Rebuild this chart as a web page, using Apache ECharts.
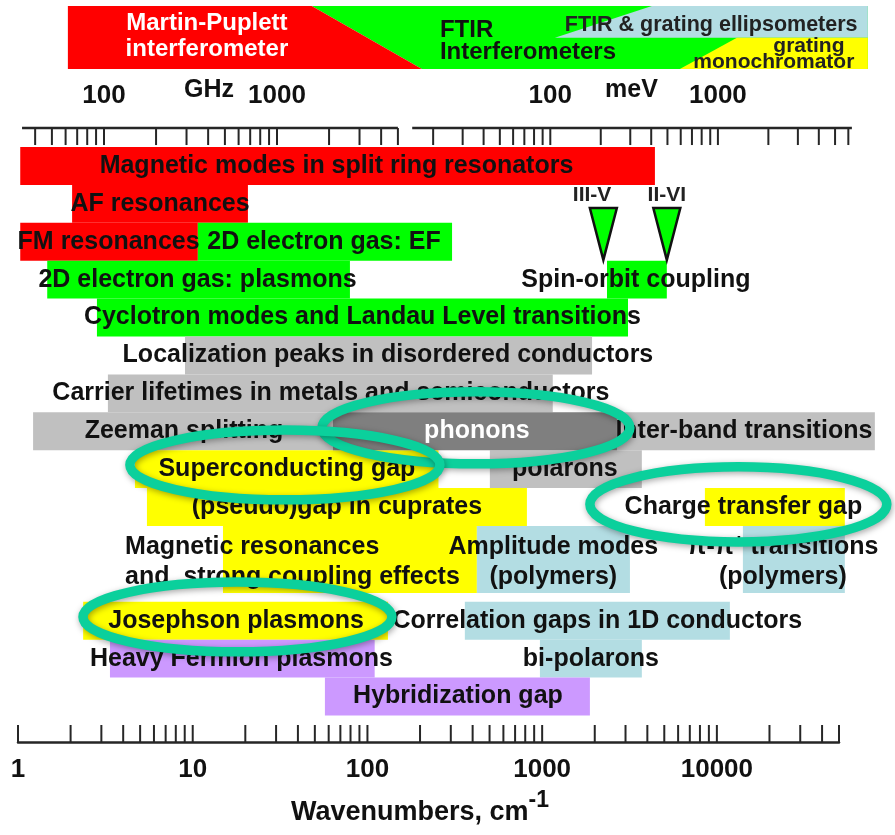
<!DOCTYPE html>
<html>
<head>
<meta charset="utf-8">
<title>Spectroscopic energy scales in correlated electron systems</title>
<script src="https://cdn.jsdelivr.net/npm/echarts@6.0.0/dist/echarts.min.js"></script>
<style>
  html, body { margin: 0; padding: 0; background: #ffffff; }
  #chart { width: 895px; height: 835px; }
</style>
</head>
<body>
<div id="chart"></div>
<script>
// ---------------------------------------------------------------------------
// Data. All energies are wavenumbers (cm^-1) unless stated otherwise.
// Band rows: [label, from, to, lane, label centre]
// ---------------------------------------------------------------------------
const redBands = [
  ['Magnetic modes in split ring resonators', 1.03, 4420, 0, 66.5],
  ['AF resonances', 2.04, 20.7, 1, 6.5],
  ['FM resonances', 1.03, 10.7, 2, 3.3]
];
const greenBands = [
  ['2D electron gas: EF', 10.7, 305, 2, 56.4],
  ['2D electron gas: plasmons', 1.47, 79.4, 3, 10.65],
  ['Spin-orbit coupling', 2350, 5170, 3, 3440],
  ['Cyclotron modes and Landau Level transitions', 2.83, 3100, 4, 93.6]
];
const grayBands = [
  ['Localization peaks in disordered conductors', 9.03, 1930, 5, 131],
  ['Carrier lifetimes in metals and semiconductors', 3.27, 1150, 6, 61.8],
  ['Zeeman splitting', 1.22, 64, 7, 8.91],
  ['Inter-band transitions', 2680, 80200, 7, 14270],
  ['polarons', 502, 3720, 8, 1349]
];
const phononBands = [
  ['phonons', 63.5, 2680, 7, 423]
];
const yellowBands = [
  ['Superconducting gap', 4.67, 255, 8, 34.6],
  ['(pseudo)gap in cuprates', 5.47, 818, 9, 66.9],
  ['Charge transfer gap', 8540, 54000, 9, 14180],
  ['Josephson plasmons', 2.36, 131, 12, 17.7]
];
const blueBands = [
  ['Correlation gaps in 1D conductors', 361, 11870, 12, 2070],
  ['bi-polarons', 971, 3720, 13, 1901]
];
const purpleBands = [
  ['Heavy Fermion plasmons', 3.36, 110, 13, 19.0],
  ['Hybridization gap', 57.1, 1876, 14, 329.6]
];
// Two-line entries occupying lanes 10 .. 11.77: [label, from, to, colour key, label anchor]
const tallBands = [
  ['Magnetic resonances\nand  strong coupling effects', 14.9, 423, 'yellow', 4.1],
  ['Amplitude modes\n(polymers)', 423, 3180, 'blue', 1158],
  ['π-π* transitions\n(polymers)', 14090, 54000, 'blue', 23860]
];
const tallLanes = [10, 11.77];

// Spin-orbit splitting markers: [label, energy]
const spinOrbitMarks = [
  ['III-V', 2240],
  ['II-VI', 5170]
];

// Instrument coverage in the header (cm^-1):
// [label, upper-left, lower-left, upper-right, lower-right, upper row, lower row]
const instruments = [
  ['FTIR\nInterferometers', 48, 205, 73150, 73150, -3.72, -2.06],
  ['FTIR & grating ellipsometers', 4246, 1183, 73150, 73150, -3.72, -2.88],
  ['grating\nmonochromator', 13020, 6140, 73150, 73150, -2.88, -2.06],
  ['Martin-Puplett\ninterferometer', 1.93, 1.93, 48, 205, -3.72, -2.06]
];

// Highlighted topics: [from, to, upper lane, lower lane]
const highlightRings = [
  [54.9, 3178, 6.46, 8.36],    // phonons
  [4.37, 260, 7.47, 9.31],     // superconducting gap
  [1876, 93900, 8.44, 10.42],  // charge transfer gap
  [2.355, 138, 11.48, 13.32]   // Josephson plasmons
];

// Axis ticks
const wavenumberTicks = [1, 2, 3, 4, 5, 6, 7, 8, 9, 10, 20, 30, 40, 50, 60, 70, 80, 90, 100,
  200, 300, 400, 500, 600, 700, 800, 900, 1000, 2000, 3000, 4000, 5000, 6000, 7000, 8000, 9000,
  10000, 20000, 30000, 40000, 50000];
const ghzTicks = [40, 50, 60, 70, 80, 90, 100, 200, 300, 400, 500, 600, 700, 800, 900, 1000,
  2000, 3000, 4000, 5000];
const ghzLabels = [100, 1000];
const ghzSpan = [33.6, 5000];
const mevTicks = [20, 30, 40, 50, 60, 70, 80, 90, 100, 200, 300, 400, 500, 600, 700, 800, 900,
  1000, 2000, 3000, 4000, 5000, 6000];
const mevLabels = [100, 1000];
const mevSpan = [15, 6300];

// ---------------------------------------------------------------------------
// Styling and layout
// ---------------------------------------------------------------------------
const FONT = '"Liberation Sans", Arial, Helvetica, sans-serif';
const INK = '#111111';
const AXIS_INK = '#262626';
const COLORS = {
  red: '#ff0000', green: '#00ff00', gray: '#c0c0c0', dark: '#7f7f7f',
  yellow: '#ffff00', blue: '#b3dde3', purple: '#cc99ff', ring: '#0bd09c'
};
const TICK_LEN = 17;
const TOP_AXIS_ROW = -0.5;
const BOTTOM_AXIS_ROW = 15.7;
const NUMBER_ROW = -1.35;
const UNIT_ROW = -1.5;

function bandSeries(rows, color, z) {
  return {
    type: 'custom', z: z, clip: false, silent: true,
    data: rows.map(r => [r[1], r[2], r[3], r[3] + 1]),
    encode: { x: [0, 1], y: [2, 3] },
    renderItem: (params, api) => {
      const a = api.coord([api.value(0), api.value(2)]);
      const b = api.coord([api.value(1), api.value(3)]);
      return { type: 'rect', shape: { x: a[0], y: a[1], width: b[0] - a[0], height: b[1] - a[1] },
        style: { fill: color } };
    }
  };
}

function tallBandSeries() {
  return {
    type: 'custom', z: 2, clip: false, silent: true,
    data: tallBands.map(r => [r[1], r[2], tallLanes[0], tallLanes[1]]),
    encode: { x: [0, 1], y: [2, 3] },
    renderItem: (params, api) => {
      const a = api.coord([api.value(0), api.value(2)]);
      const b = api.coord([api.value(1), api.value(3)]);
      return { type: 'rect', shape: { x: a[0], y: a[1], width: b[0] - a[0], height: b[1] - a[1] },
        style: { fill: COLORS[tallBands[params.dataIndex][3]] } };
    }
  };
}

function textSeries(items, style, xAxisIndex, z) {
  return {
    type: 'custom', xAxisIndex: xAxisIndex || 0, yAxisIndex: 0, z: z || 5, clip: false, silent: true,
    data: items.map(t => [t[1], t[2]]),
    encode: { x: 0, y: 1 },
    renderItem: (params, api) => {
      const p = api.coord([api.value(0), api.value(1)]);
      return { type: 'text', x: p[0], y: p[1],
        style: Object.assign({ text: items[params.dataIndex][0] }, style) };
    }
  };
}

function tickSeries(values, xAxisIndex, row, dir) {
  return {
    type: 'custom', xAxisIndex: xAxisIndex, yAxisIndex: 0, z: 4, clip: false, silent: true,
    data: values.map(v => [v, row]),
    encode: { x: 0, y: 1 },
    renderItem: (params, api) => {
      const p = api.coord([api.value(0), api.value(1)]);
      return { type: 'line', shape: { x1: p[0], y1: p[1], x2: p[0], y2: p[1] + dir * TICK_LEN },
        style: { stroke: AXIS_INK, lineWidth: 2 } };
    }
  };
}

function spanSeries(span, xAxisIndex, row) {
  return {
    type: 'custom', xAxisIndex: xAxisIndex, yAxisIndex: 0, z: 4, clip: false, silent: true,
    data: [[span[0], span[1], row]],
    encode: { x: [0, 1], y: 2 },
    renderItem: (params, api) => {
      const a = api.coord([api.value(0), api.value(2)]);
      const b = api.coord([api.value(1), api.value(2)]);
      return { type: 'line', shape: { x1: a[0], y1: a[1], x2: b[0], y2: b[1] },
        style: { stroke: AXIS_INK, lineWidth: 2.5 } };
    }
  };
}

const labelStyle = { fill: INK, fontSize: 25, fontWeight: 'bold', fontFamily: FONT,
  align: 'center', verticalAlign: 'middle' };

const allBands = [].concat(redBands, greenBands, grayBands, yellowBands, blueBands, purpleBands);
const bandLabels = allBands.map(b => [b[0], b[4], b[3] + 0.5]);
const phononLabels = phononBands.map(b => [b[0], b[4], b[3] + 0.5]);
const tallCenter = (tallLanes[0] + tallLanes[1]) / 2 + 0.06;

const series = [
  // header: instrument coverage
  {
    type: 'custom', z: 1, clip: false, silent: true,
    data: instruments.map(r => [r[1], r[2], r[3], r[4], r[5], r[6]]),
    encode: { x: [0, 1, 2, 3], y: [4, 5] },
    renderItem: (params, api) => {
      const fills = [COLORS.green, COLORS.blue, COLORS.yellow, COLORS.red];
      const ul = api.coord([api.value(0), api.value(4)]);
      const ur = api.coord([api.value(2), api.value(4)]);
      const lr = api.coord([api.value(3), api.value(5)]);
      const ll = api.coord([api.value(1), api.value(5)]);
      return { type: 'polygon', shape: { points: [ul, ur, lr, ll] },
        style: { fill: fills[params.dataIndex] } };
    }
  },
  bandSeries(redBands, COLORS.red, 2),
  bandSeries(greenBands, COLORS.green, 2),
  bandSeries(grayBands, COLORS.gray, 2),
  bandSeries(phononBands, COLORS.dark, 3),
  bandSeries(yellowBands, COLORS.yellow, 2),
  bandSeries(blueBands, COLORS.blue, 2),
  bandSeries(purpleBands, COLORS.purple, 2),
  tallBandSeries(),
  // spin-orbit markers
  {
    type: 'custom', z: 3, clip: false, silent: true,
    data: spinOrbitMarks.map(m => [m[1], 1.61, 2.98]),
    encode: { x: 0, y: [1, 2] },
    renderItem: (params, api) => {
      const top = api.coord([api.value(0), api.value(1)]);
      const tip = api.coord([api.value(0), api.value(2)]);
      const hw = 13.5;
      return { type: 'polygon',
        shape: { points: [[top[0] - hw, top[1]], [top[0] + hw, top[1]], [tip[0], tip[1]]] },
        style: { fill: COLORS.green, stroke: '#111', lineWidth: 2.5, lineJoin: 'miter' } };
    }
  },
  textSeries(spinOrbitMarks.map((m, i) => [m[0], i === 0 ? 1930 : m[1], 1.27]),
    Object.assign({}, labelStyle, { fontSize: 21, fill: '#222' })),
  // top scales
  spanSeries(ghzSpan, 1, TOP_AXIS_ROW),
  spanSeries(mevSpan, 2, TOP_AXIS_ROW),
  tickSeries(ghzTicks, 1, TOP_AXIS_ROW, 1),
  tickSeries(mevTicks, 2, TOP_AXIS_ROW, 1),
  tickSeries(wavenumberTicks, 0, BOTTOM_AXIS_ROW, -1),
  textSeries(ghzLabels.map(v => [String(v), v, NUMBER_ROW]), Object.assign({}, labelStyle, { fontSize: 26 }), 1),
  textSeries(mevLabels.map(v => [String(v), v, NUMBER_ROW]), Object.assign({}, labelStyle, { fontSize: 26 }), 2),
  textSeries([['GHz', 405, UNIT_ROW]], Object.assign({}, labelStyle, { fontSize: 25 }), 1),
  textSeries([['meV', 305, UNIT_ROW]], Object.assign({}, labelStyle, { fontSize: 25 }), 2),
  // header captions
  textSeries([['Martin-Puplett\ninterferometer', 12.06, -2.916]],
    Object.assign({}, labelStyle, { fill: '#ffffff', fontSize: 24, lineHeight: 26 })),
  textSeries([['FTIR\nInterferometers', 260, -2.79]],
    Object.assign({}, labelStyle, { align: 'left', fontSize: 24, lineHeight: 22 })),
  textSeries([['FTIR & grating ellipsometers', 1349, -3.22]],
    Object.assign({}, labelStyle, { align: 'left', fontSize: 21.5, fill: '#222' })),
  textSeries([['grating', 33620, -2.665], ['monochromator', 21190, -2.24]],
    Object.assign({}, labelStyle, { fontSize: 21, fill: '#222' })),
  // band captions
  textSeries(bandLabels, labelStyle),
  textSeries(phononLabels, Object.assign({}, labelStyle, { fill: '#ffffff' }), 0, 6),
  textSeries([[tallBands[0][0], tallBands[0][4], tallCenter]],
    Object.assign({}, labelStyle, { align: 'left', lineHeight: 30 })),
  textSeries(tallBands.slice(1).map(b => [b[0], b[4], tallCenter]),
    Object.assign({}, labelStyle, { lineHeight: 30 })),
  // highlight rings
  {
    type: 'custom', z: 10, clip: false, silent: true,
    data: highlightRings,
    encode: { x: [0, 1], y: [2, 3] },
    renderItem: (params, api) => {
      const a = api.coord([api.value(0), api.value(2)]);
      const b = api.coord([api.value(1), api.value(3)]);
      return { type: 'ellipse',
        shape: { cx: (a[0] + b[0]) / 2, cy: (a[1] + b[1]) / 2, rx: (b[0] - a[0]) / 2, ry: (b[1] - a[1]) / 2 },
        style: { fill: 'none', stroke: COLORS.ring, lineWidth: 9.5,
          shadowBlur: 6, shadowColor: 'rgba(0,0,0,0.35)', shadowOffsetX: 1, shadowOffsetY: 2 } };
    }
  }
];

const chart = echarts.init(document.getElementById('chart'), null, { renderer: 'canvas' });
chart.setOption({
  animation: false,
  backgroundColor: '#ffffff',
  grid: { left: 18, right: 56, top: 6, bottom: 93, containLabel: false, outerBoundsMode: 'none' },
  xAxis: [
    {
      type: 'log', logBase: 10, min: 1, max: 50000, position: 'bottom',
      axisLine: { show: true, onZero: false, lineStyle: { color: AXIS_INK, width: 2.5 } },
      axisTick: { show: false },
      splitLine: { show: false },
      minorTick: { show: false },
      axisLabel: {
        show: true, margin: 15, showMaxLabel: false,
        color: INK, fontSize: 26, fontWeight: 'bold', fontFamily: FONT,
        formatter: v => String(Math.round(v))
      },
      name: '{a|Wavenumbers, cm}{b|-1}',
      nameLocation: 'middle',
      nameGap: 47,
      nameTextStyle: {
        padding: [0, 17, 0, 0],
        rich: {
          a: { fontSize: 27, fontWeight: 'bold', fontFamily: FONT, color: INK, lineHeight: 48 },
          b: { fontSize: 23, fontWeight: 'bold', fontFamily: FONT, color: INK, verticalAlign: 'top' }
        }
      }
    },
    // frequency scale in GHz
    { type: 'log', logBase: 10, min: 31.84, max: 1.773e6, show: false },
    // photon energy scale in meV
    { type: 'log', logBase: 10, min: 0.0667, max: 5278, show: false }
  ],
  yAxis: { type: 'value', inverse: true, min: -3.72, max: BOTTOM_AXIS_ROW, show: false },
  series: series
});
</script>
</body>
</html>
